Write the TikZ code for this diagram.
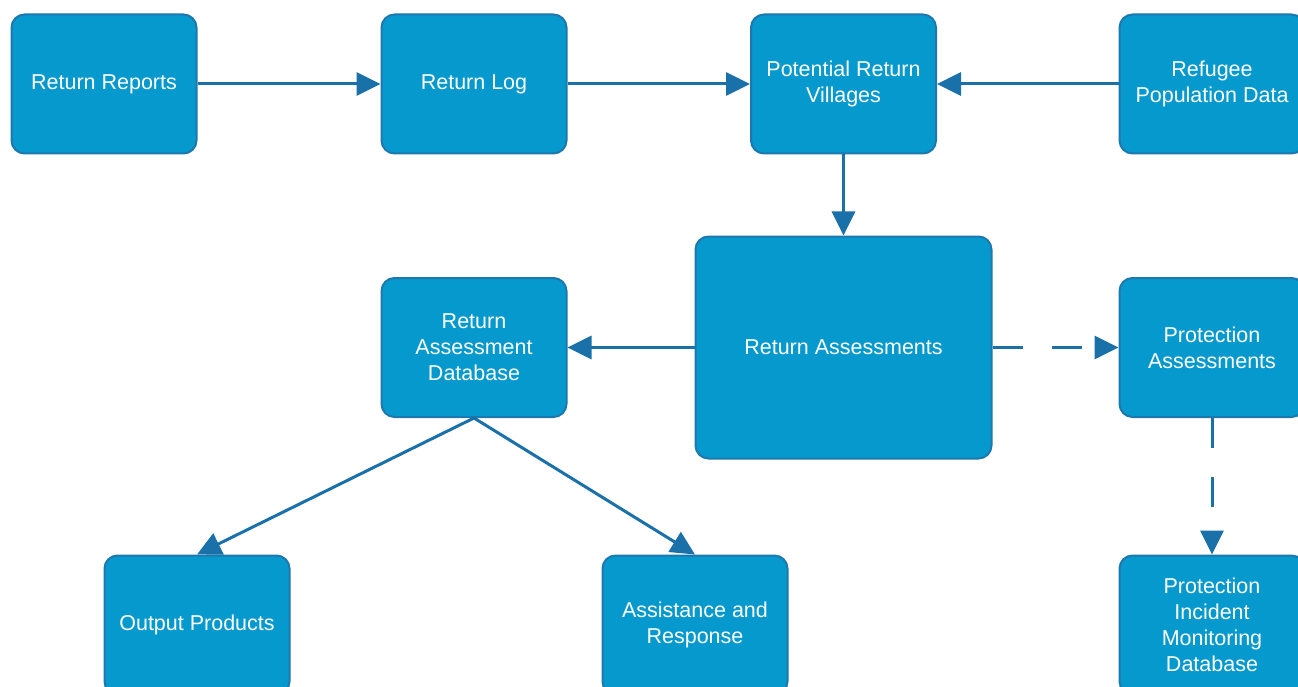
\documentclass[tikz,border=0pt]{standalone}
\usepackage{fontspec}
\setmainfont{Liberation Sans}
\usetikzlibrary{arrows.meta}
\definecolor{boxfill}{HTML}{0599CD}
\definecolor{boxline}{HTML}{1D78AE}
\definecolor{arrowcol}{HTML}{1A71AA}
\begin{document}
\begin{tikzpicture}[x=1pt,y=-1pt,
  box/.style={draw=boxline, fill=boxfill, line width=2pt, rounded corners=13pt,
    minimum width=185pt, minimum height=139pt, inner sep=0pt, text=white,
    align=center, font=\fontsize{21.5}{26}\selectfont},
  conn/.style={draw=arrowcol, line width=3pt, -{Triangle[length=24pt,width=23pt]}},
  dconn/.style={conn, dash pattern=on 30pt off 29pt}]
\useasboundingbox (0,0) rectangle (1298,687);
\clip (0,0) rectangle (1298,687);
\node[box] (rr)   at (104,84)   {Return Reports};
\node[box] (rl)   at (474,84)   {Return Log};
\node[box] (prv)  at (843.5,84) {Potential Return\\Villages};
\node[box] (rpd)  at (1212,84)  {Refugee\\Population Data};
\node[box, minimum width=296pt, minimum height=222pt] (ra) at (843.5,347.5) {Return Assessments};
\node[box] (rad)  at (474,347.5)  {Return\\Assessment\\Database};
\node[box] (pa)   at (1212,347.5) {Protection\\Assessments};
\node[box] (op)   at (197,625)  {Output Products};
\node[box] (ar)   at (695,625)  {Assistance and\\Response};
\node[box] (pimd) at (1212,625) {Protection\\Incident\\Monitoring\\Database};
\draw[conn] (rr.east) -- (rl.west);
\draw[conn] (rl.east) -- (prv.west);
\draw[conn] (rpd.west) -- (prv.east);
\draw[conn] (prv.south) -- (ra.north);
\draw[conn] (ra.west) -- (rad.east);
\draw[dconn] (ra.east) -- (pa.west);
\draw[dconn] (pa.south) -- (pimd.north);
\draw[conn] (rad.south) -- (op.north);
\draw[conn] (rad.south) -- (ar.north);
\end{tikzpicture}
\end{document}
